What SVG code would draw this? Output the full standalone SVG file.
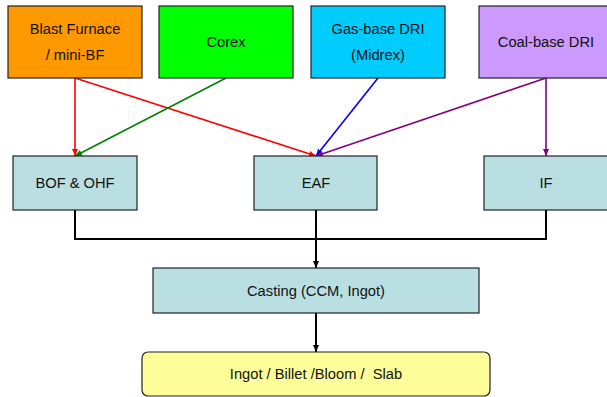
<svg xmlns="http://www.w3.org/2000/svg" width="607" height="397" viewBox="0 0 607 397">
<style>
.box{stroke:#222;stroke-width:1.2}
.t{font-family:"Liberation Sans",Arial,sans-serif;font-size:14.7px;fill:#111;text-anchor:middle}
.c{fill:none;stroke-width:1.6}
</style>
<defs>
<marker id="mr" markerUnits="userSpaceOnUse" markerWidth="8" markerHeight="8" refX="7" refY="4" orient="auto"><path d="M0,1 L7,4 L0,7 Z" fill="#ff0000"/></marker>
<marker id="mg" markerUnits="userSpaceOnUse" markerWidth="8" markerHeight="8" refX="7" refY="4" orient="auto"><path d="M0,1 L7,4 L0,7 Z" fill="#008000"/></marker>
<marker id="mb" markerUnits="userSpaceOnUse" markerWidth="8" markerHeight="8" refX="7" refY="4" orient="auto"><path d="M0,1 L7,4 L0,7 Z" fill="#0000ff"/></marker>
<marker id="mp" markerUnits="userSpaceOnUse" markerWidth="8" markerHeight="8" refX="7" refY="4" orient="auto"><path d="M0,1 L7,4 L0,7 Z" fill="#800080"/></marker>
<marker id="mk" markerUnits="userSpaceOnUse" markerWidth="8" markerHeight="8" refX="7" refY="4" orient="auto"><path d="M0,1 L7,4 L0,7 Z" fill="#000"/></marker>
</defs>
<rect width="607" height="397" fill="#fff"/>
<g id="connectors">
<line class="c" x1="75" y1="78" x2="75" y2="156" stroke="#ff0000" marker-end="url(#mr)"/>
<line class="c" x1="75" y1="78" x2="316" y2="156" stroke="#ff0000" marker-end="url(#mr)"/>
<line class="c" x1="226" y1="78" x2="75" y2="156" stroke="#008000" marker-end="url(#mg)"/>
<line class="c" x1="378" y1="78" x2="316" y2="156" stroke="#0000ff" marker-end="url(#mb)"/>
<line class="c" x1="546" y1="78" x2="316" y2="156" stroke="#800080" marker-end="url(#mp)"/>
<line class="c" x1="546" y1="78" x2="546" y2="156" stroke="#800080" marker-end="url(#mp)"/>
<polyline fill="none" stroke="#000" stroke-width="2" points="75,210 75,239 546,239 546,210"/>
<line x1="316" y1="210" x2="316" y2="268" stroke="#000" stroke-width="2" marker-end="url(#mk)"/>
<line x1="316" y1="313" x2="316" y2="352" stroke="#000" stroke-width="2" marker-end="url(#mk)"/>
</g>
<g id="bf"><rect class="box" x="8" y="6" width="134" height="72" fill="#ff9900"/><text class="t" x="75" y="34">Blast Furnace</text><text class="t" x="75" y="60">/ mini-BF</text></g>
<g id="corex"><rect class="box" x="159" y="6" width="134" height="72" fill="#00ff00"/><text class="t" x="226" y="47">Corex</text></g>
<g id="gasdri"><rect class="box" x="311" y="6" width="134" height="72" fill="#00ccff"/><text class="t" x="378" y="34">Gas-base DRI</text><text class="t" x="378" y="60">(Midrex)</text></g>
<g id="coaldri"><rect class="box" x="479" y="6" width="134" height="72" fill="#cc99ff"/><text class="t" x="546" y="47">Coal-base DRI</text></g>
<g id="bof"><rect class="box" x="13" y="156" width="124" height="54" fill="#b9dfe3"/><text class="t" x="75" y="188">BOF &amp; OHF</text></g>
<g id="eaf"><rect class="box" x="254" y="156" width="123" height="54" fill="#b9dfe3"/><text class="t" x="316" y="188">EAF</text></g>
<g id="if"><rect class="box" x="484" y="156" width="124" height="54" fill="#b9dfe3"/><text class="t" x="546" y="188">IF</text></g>
<g id="casting"><rect class="box" x="153" y="268" width="326" height="45" fill="#b9dfe3"/><text class="t" x="316" y="296">Casting (CCM, Ingot)</text></g>
<g id="product"><rect class="box" x="142" y="352" width="348" height="44" rx="6" fill="#ffff99"/><text class="t" x="316" y="379" xml:space="preserve">Ingot / Billet /Bloom /  Slab</text></g>
</svg>
